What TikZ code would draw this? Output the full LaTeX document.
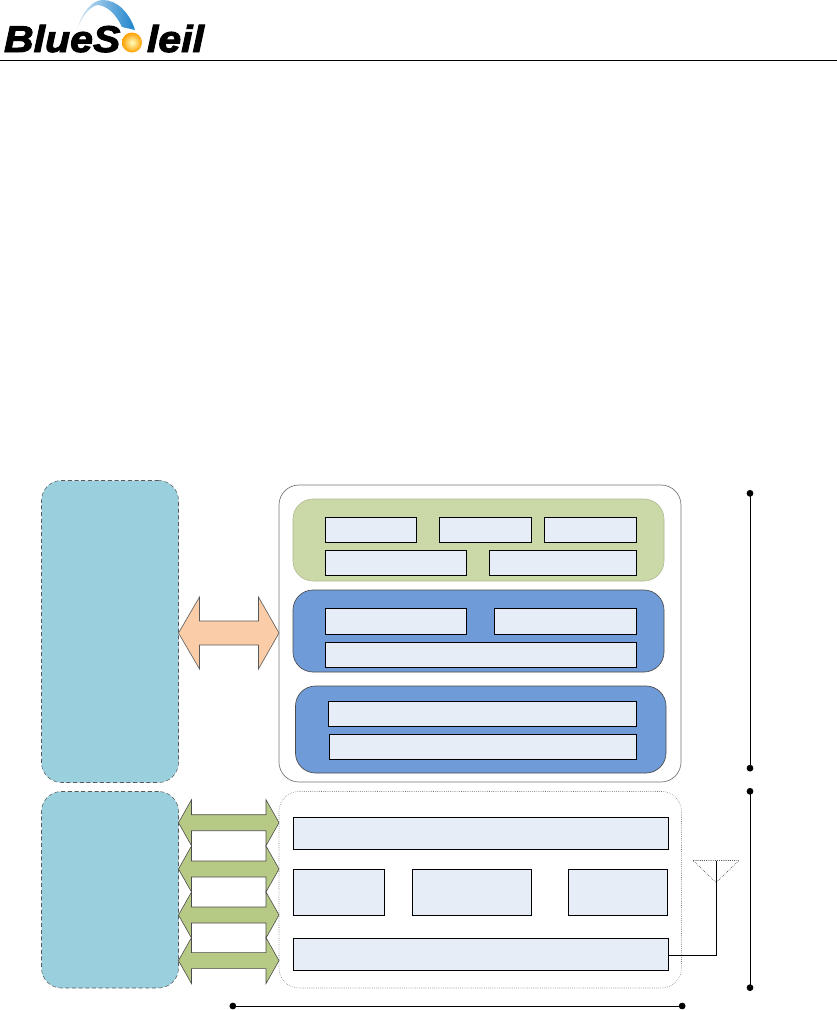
\documentclass[tikz,border=0pt]{standalone}
\usepackage{fontspec}
\usetikzlibrary{arrows.meta}
\newfontfamily\logofont{Liberation Sans}[UprightFont=* Bold Italic,FakeBold=2.6,FakeStretch=1.1]
\definecolor{hostblue}{HTML}{9AD0DE}
\definecolor{panelgreen}{HTML}{CBD9A9}
\definecolor{panelblue}{HTML}{6F9BD9}
\definecolor{cellblue}{HTML}{E6EDF7}
\definecolor{arroworange}{HTML}{FACDA8}
\definecolor{arrowgreen}{HTML}{B7CA85}
\definecolor{arcpale}{HTML}{D5E8F4}
\definecolor{arcdeep}{HTML}{1C82CC}
% \blk{name}{style}{x1}{y1}{x2}{y2}: a block given by its corners in reference pixels
\newcommand{\blk}[6]{%
  \pgfmathsetmacro{\blkw}{(#5-#3)*0.75}%
  \pgfmathsetmacro{\blkh}{(#6-#4)*0.75}%
  \node[#2,minimum width=\blkw pt,minimum height=\blkh pt] (#1) at ({(#3+#5)/2},{(#4+#6)/2}) {};}
% \dbl{name}{style}{tipL}{headL}{headR}{tipR}{ymid}{shaft half}{head half}
\newcommand{\dbl}[9]{%
  \draw[#2] (#3,#7) -- (#4,#7-#9) -- (#4,#7-#8) -- (#5,#7-#8) -- (#5,#7-#9) -- (#6,#7)
    -- (#5,#7+#9) -- (#5,#7+#8) -- (#4,#7+#8) -- (#4,#7+#9) -- cycle;}
\tikzset{
  x=0.75pt,y=-0.75pt,
  every node/.style={inner sep=0pt,outer sep=0pt},
  hostblock/.style={draw=black!65,densely dashed,line width=0.4pt,fill=hostblue,rounded corners=15pt},
  stackframe/.style={draw=black!55,line width=0.5pt,fill=white,rounded corners=15pt},
  hwframe/.style={draw=black!60,densely dotted,line width=0.4pt,fill=white,rounded corners=15pt},
  greenpanel/.style={draw=panelgreen!85!black,line width=0.4pt,fill=panelgreen,rounded corners=15pt},
  bluepanel/.style={draw=black!70,line width=0.5pt,fill=panelblue,rounded corners=15pt},
  cell/.style={draw=black,line width=0.6pt,fill=cellblue},
  orangearrow/.style={draw=black!65,line width=0.45pt,fill=arroworange,line join=miter},
  greenarrow/.style={draw=black!70,line width=0.45pt,fill=arrowgreen,line join=miter},
  span/.style={draw=black,line width=0.6pt,{Circle[length=5pt,width=5pt]}-{Circle[length=5pt,width=5pt]}},
  wire/.style={draw=black,line width=0.6pt},
}
\begin{document}
\begin{tikzpicture}
\useasboundingbox (0,0) rectangle (837,1010);
% header
\coordinate (hl) at (0,60.5);
\coordinate (hr) at (837,60.5);
\draw[line width=0.7pt] (hl) -- (hr);
% logo
\shade[left color=arcpale,right color=arcdeep]
  (77,30) .. controls (82,12) and (92,0) .. (103,0) .. controls (118,0) and (130,14) .. (135,30)
  -- (122,27) .. controls (116,14) and (107,6) .. (98,5) .. controls (90,6) and (82,16) .. (77,30) -- cycle;
\node[anchor=base west,font=\logofont\fontsize{28}{28}\selectfont] (logoa) at (4,52) {BlueS};
\node[anchor=base east,font=\logofont\fontsize{28}{28}\selectfont] (logob) at (204,52) {leil};
\shade[inner color=yellow!25,outer color=orange!75!yellow] (132,42.5) circle[radius=10];
% left blocks
\blk{hosttop}{hostblock}{41.5}{480.5}{178.5}{782.5}
\blk{hostbot}{hostblock}{41.5}{791.5}{178.5}{988}
% frames
\blk{stack}{stackframe}{279}{485}{681}{782}
\blk{hw}{hwframe}{279}{791.5}{681.5}{988}
% panels
\blk{pa}{greenpanel}{293}{499}{664}{581}
\blk{pb}{bluepanel}{293}{590}{664}{672}
\blk{pc}{bluepanel}{295.5}{686}{666}{773}
% cells
\blk{ca}{cell}{325.5}{517.5}{416.5}{542.5}
\blk{cb}{cell}{439.5}{517.5}{531.5}{542.5}
\blk{cc}{cell}{544.5}{517.5}{636.5}{542.5}
\blk{cd}{cell}{325.5}{550.5}{466.5}{575.5}
\blk{ce}{cell}{489.5}{550.5}{636.5}{575.5}
\blk{cf}{cell}{325.5}{608.5}{466.5}{634.5}
\blk{cg}{cell}{494.5}{608.5}{636.5}{634.5}
\blk{ch}{cell}{325.5}{642.5}{636.5}{667.5}
\blk{ci}{cell}{328.5}{701.5}{636.5}{726.5}
\blk{cj}{cell}{329.5}{734.5}{636.5}{759.5}
\blk{da}{cell}{293.5}{817.5}{668.5}{849.5}
\blk{db}{cell}{293.5}{869.5}{384.5}{915.5}
\blk{dc}{cell}{412.5}{869.5}{531.5}{915.5}
\blk{dd}{cell}{568.5}{869.5}{667.5}{915.5}
\blk{de}{cell}{293.5}{938.5}{668.5}{970.5}
% double arrows
\dbl{oa}{orangearrow}{178.5}{199.5}{258.5}{279}{633}{12}{36}
\dbl{ga}{greenarrow}{178.5}{191.5}{266}{279}{822.7}{8}{23}
\dbl{gb}{greenarrow}{178.5}{191.5}{266}{279}{869}{8}{23}
\dbl{gc}{greenarrow}{178.5}{191.5}{266}{279}{915}{8}{23}
\dbl{gd}{greenarrow}{178.5}{191.5}{266}{279}{960.6}{8}{23}
% antenna
\coordinate (anttop) at (716.5,860.5);
\coordinate (antbend) at (716.5,955);
\draw[line width=0.4pt,densely dotted] (693,860.5) -- (739,860.5) -- (716,882.5) -- cycle;
\draw[wire] (anttop) -- (antbend) -- (de.east |- antbend);
% extents
\coordinate (sa) at (750,490);
\coordinate (sb) at (750,771.5);
\coordinate (sc) at (750,788);
\coordinate (sd) at (750,991);
\coordinate (se) at (229.5,1006);
\coordinate (sf) at (685.5,1006);
\draw[span] (sa) -- (sb);
\draw[span] (sc) -- (sd);
\draw[span] (se) -- (sf);
\end{tikzpicture}
\end{document}
